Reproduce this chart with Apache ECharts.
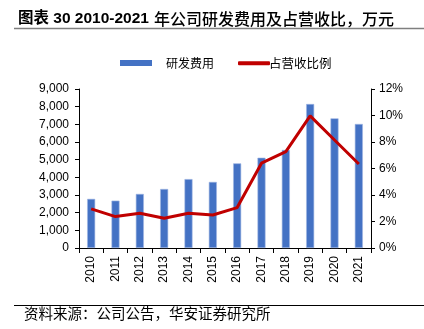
<!DOCTYPE html>
<html>
<head>
<meta charset="utf-8">
<script src="https://cdn.jsdelivr.net/npm/echarts@6/dist/echarts.min.js"></script>
<style>
  html, body { margin: 0; padding: 0; background: #fff; }
  #chart { width: 424px; height: 329px; }
</style>
</head>
<body>
<div id="chart"></div>
<script>
// Years on the category axis
const years = ['2010','2011','2012','2013','2014','2015','2016','2017','2018','2019','2020','2021'];
// R&D expense, 10k CNY
const rdExpense = [2780, 2680, 3060, 3340, 3900, 3740, 4790, 5110, 5550, 8150, 7340, 7020];
// R&D expense as share of revenue, %
const rdRatio = [2.95, 2.37, 2.62, 2.24, 2.62, 2.49, 3.05, 6.4, 7.27, 9.97, 8.15, 6.34];

const latin = 'Liberation Sans, Arial, Noto Sans CJK SC, sans-serif';
const cjk = 'Noto Sans CJK SC, Liberation Sans, sans-serif';

const chart = echarts.init(document.getElementById('chart'), null, { renderer: 'canvas' });

chart.setOption({
  backgroundColor: '#ffffff',
  animation: false,
  title: {
    text: '{b|图表 30 2010-2021} {n|年公司研发费用及占营收比，万元}',
    left: 13,
    top: 5,
    textStyle: {
      rich: {
        b: { fontFamily: latin, fontSize: 15.5, fontWeight: 'bold', color: '#000' },
        n: { fontFamily: cjk, fontSize: 16, fontWeight: 500, color: '#000' }
      }
    }
  },
  legend: [
    {
      data: ['研发费用'],
      left: 115,
      top: 52,
      itemWidth: 32,
      itemHeight: 6,
      icon: 'rect',
      itemStyle: { borderWidth: 0 },
      textStyle: { fontFamily: cjk, fontSize: 12, color: '#000', padding: [0, 0, 0, 9] }
    },
    {
      data: ['占营收比例'],
      left: 233,
      top: 52,
      itemWidth: 32,
      itemHeight: 4,
      icon: 'roundRect',
      textStyle: { fontFamily: cjk, fontSize: 12.5, color: '#000', padding: [0, 0, 0, -6] }
    }
  ],
  grid: { left: 79, right: 53, top: 89, bottom: 81, containLabel: false },
  xAxis: {
    type: 'category',
    data: years,
    axisLine: { lineStyle: { color: '#000', width: 1 } },
    axisTick: { show: true, alignWithLabel: false, length: 5, lineStyle: { color: '#000' } },
    axisLabel: { rotate: 90, fontFamily: latin, fontSize: 12, color: '#000', margin: 8 }
  },
  yAxis: [
    {
      type: 'value',
      min: 0, max: 9000, interval: 1000,
      splitLine: { show: false },
      axisLine: { show: true, lineStyle: { color: '#000' } },
      axisTick: { show: true, length: 4, inside: false, lineStyle: { color: '#000' } },
      axisLabel: {
        fontFamily: latin, fontSize: 12, color: '#000', margin: 10,
        formatter: v => v.toLocaleString('en-US')
      }
    },
    {
      type: 'value',
      min: 0, max: 12, interval: 2,
      splitLine: { show: false },
      axisLine: { show: true, lineStyle: { color: '#000' } },
      axisTick: { show: true, length: 4, lineStyle: { color: '#000' } },
      axisLabel: { fontFamily: latin, fontSize: 12, color: '#000', margin: 8, formatter: '{value}%' }
    }
  ],
  series: [
    {
      name: '研发费用',
      type: 'bar',
      data: rdExpense,
      barWidth: 8,
      itemStyle: { color: '#4472C4', borderColor: '#9fb5e3', borderWidth: 0.6 }
    },
    {
      name: '占营收比例',
      type: 'line',
      yAxisIndex: 1,
      data: rdRatio,
      symbol: 'none',
      lineStyle: { color: '#C00000', width: 3 },
      itemStyle: { color: '#C00000' }
    }
  ],
  graphic: [
    {
      type: 'line',
      shape: { x1: 14, y1: 28.5, x2: 424, y2: 28.5 },
      style: { stroke: '#7f7f7f', lineWidth: 1.5 }
    },
    {
      type: 'line',
      shape: { x1: 14, y1: 305.5, x2: 424, y2: 305.5 },
      style: { stroke: '#000', lineWidth: 1 }
    },
    {
      type: 'text',
      left: 24,
      top: 306,
      style: {
        text: '资料来源：公司公告，华安证券研究所',
        fontFamily: cjk, fontSize: 14.5, fill: '#000'
      }
    }
  ]
});
</script>
</body>
</html>
